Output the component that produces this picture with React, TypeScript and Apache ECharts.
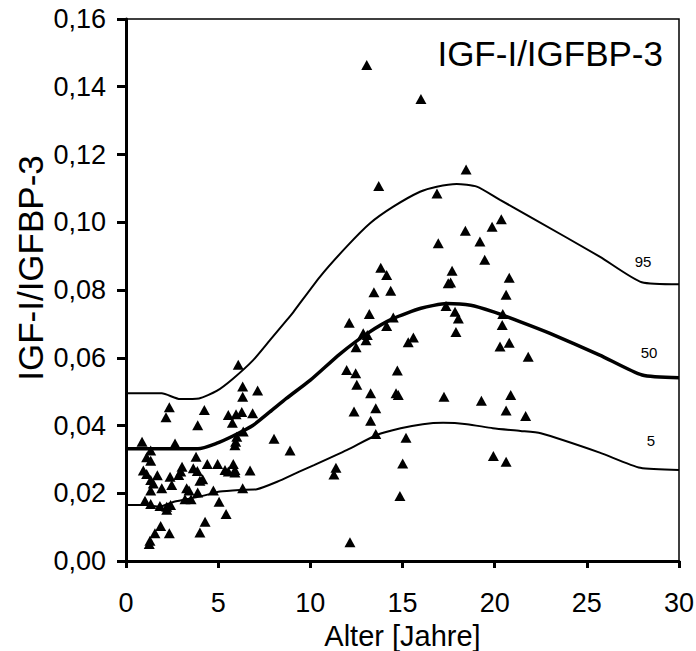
import React, { useEffect, useRef } from "react";
import * as echarts from "echarts";

// Scatter: individual measurements (age in years, IGF-I/IGFBP-3 ratio)
const ages = [
  6.09, 6.33, 7.14, 6.33, 2.35, 4.25, 2.17, 5.55, 5.97, 6.28, 6.87, 5.77, 3.89, 6.36, 6.01, 5.95,
  5.91, 8.03, 8.9, 0.87, 2.66, 1.34, 1.12, 1.34, 3.8, 0.94, 1.12, 1.7, 1.34, 1.48, 2.39, 3.04,
  2.97, 2.86, 3.65, 3.87, 4.01, 4.16, 4.41, 4.97, 5.37, 5.55, 5.82, 5.91, 5.91, 6.73, 2.48, 1.94,
  1.34, 3.29, 3.42, 3.89, 4.74, 6.33, 1.03, 1.34, 1.84, 2.21, 2.42, 2.21, 3.2, 3.53, 5.05, 5.43,
  4.29, 1.88, 1.57, 2.35, 4.01, 1.3, 1.26,
  13.06, 16.0, 18.45, 13.71, 16.87, 20.36, 19.86, 18.41, 19.2, 16.94, 19.46, 13.82, 14.14, 17.69,
  20.79, 17.48, 17.61, 13.45, 14.36, 20.62,
  13.2, 12.11, 14.5, 14.14, 17.36, 17.85, 18.03, 17.9, 20.44, 20.41, 12.87, 13.09, 13.02, 12.48,
  15.59, 15.31, 20.29, 20.79, 21.82, 11.97, 12.46, 14.72, 12.52, 13.27, 14.65, 14.77, 17.25, 19.28,
  20.87, 20.62, 21.68, 12.37, 13.55, 13.27, 13.55, 15.19, 11.39, 11.28, 15.01, 19.93, 20.62, 14.86,
  12.15,
];
const ratios = [
  0.0579, 0.0515, 0.0503, 0.0485, 0.0454, 0.0446, 0.0424, 0.0431, 0.0433, 0.044, 0.0436, 0.0408,
  0.0401, 0.0382, 0.0367, 0.0352, 0.0342, 0.0361, 0.0326, 0.0352, 0.0347, 0.0326, 0.0306, 0.0296,
  0.0308, 0.0267, 0.0257, 0.0253, 0.0239, 0.0229, 0.0249, 0.0278, 0.0264, 0.0254, 0.0274, 0.0266,
  0.0237, 0.0241, 0.0286, 0.0286, 0.0269, 0.0264, 0.0286, 0.0269, 0.0261, 0.0267, 0.0224, 0.0215,
  0.0208, 0.0215, 0.0208, 0.0202, 0.0208, 0.0215, 0.0178, 0.0168, 0.0162, 0.016, 0.0165, 0.0151,
  0.0182, 0.0182, 0.0175, 0.0139, 0.0116, 0.0103, 0.0082, 0.0082, 0.0084, 0.006, 0.005,
  0.1464, 0.1364, 0.1156, 0.1107, 0.1085, 0.1009, 0.0987, 0.0975, 0.0943, 0.0938, 0.0889, 0.0866,
  0.0844, 0.0857, 0.0836, 0.082, 0.0822, 0.0793, 0.0798, 0.0786,
  0.0729, 0.0703, 0.0719, 0.0694, 0.0753, 0.0736, 0.0716, 0.0676, 0.0729, 0.0697, 0.0672, 0.0667,
  0.0652, 0.0631, 0.066, 0.0646, 0.0633, 0.0644, 0.0603, 0.0564, 0.0554, 0.0562, 0.052, 0.0495,
  0.0495, 0.049, 0.0485, 0.0473, 0.049, 0.0444, 0.0428, 0.0441, 0.0451, 0.0414, 0.0375, 0.0364,
  0.0275, 0.0255, 0.0288, 0.031, 0.0293, 0.0192, 0.0055,
];

// Percentile curves
const p95Age = [0, 1.94, 2.93, 3.96, 4.92, 5.82, 6.9, 7.81, 8.72, 9.08, 10.52, 11.97, 13.24, 14.5, 15.95, 16.86, 17.94, 19.03, 20.29, 21.92, 25.72, 27.98, 30];
const p95Val = [0.0495, 0.0495, 0.0478, 0.048, 0.0502, 0.0539, 0.0593, 0.0652, 0.0711, 0.0735, 0.0839, 0.0928, 0.0997, 0.1046, 0.109, 0.1105, 0.1113, 0.1105, 0.1066, 0.1016, 0.0898, 0.0823, 0.0817];
const p50Age = [0, 3.9, 4.9, 5.8, 6.9, 7.8, 8.7, 10.0, 11.6, 13.1, 14.5, 16.0, 17.4, 18.7, 19.9, 21.4, 23.0, 25.7, 28.0, 30];
const p50Val = [0.0331, 0.0331, 0.0347, 0.0369, 0.0401, 0.044, 0.048, 0.0534, 0.0611, 0.0672, 0.0716, 0.0746, 0.076, 0.0755, 0.0736, 0.0706, 0.0672, 0.0608, 0.0549, 0.0541];
const p5Age = [0, 1.1, 1.8, 2.6, 4.0, 5.1, 6.2, 7.1, 8.2, 9.4, 10.2, 12.0, 13.6, 14.9, 16.1, 17.2, 18.5, 19.9, 21.4, 22.5, 25.7, 27.9, 30];
const p5Val = [0.0165, 0.0165, 0.016, 0.0175, 0.019, 0.0205, 0.021, 0.0212, 0.0234, 0.0264, 0.0283, 0.0328, 0.0372, 0.0392, 0.0404, 0.0408, 0.0404, 0.0392, 0.0384, 0.0377, 0.032, 0.0275, 0.0269];

const percentileLabels = ["95", "50", "5"];
const titleText = "IGF-I/IGFBP-3";
const yAxisTitle = "IGF-I/IGFBP-3";
const xAxisTitle = "Alter [Jahre]";

const FONT = "'Liberation Sans', Arial, Helvetica, sans-serif";

const zip = (xs: number[], ys: number[]) => xs.map((x, i) => [x, ys[i]]);

export default function App() {
  const ref = useRef<HTMLDivElement>(null);
  useEffect(() => {
    if (!ref.current) return;
    const chart = echarts.init(ref.current, null, { renderer: "svg" });
    const lineSeries = (data: number[][], width: number) => ({
      type: "line",
      data,
      showSymbol: false,
      symbol: "none",
      smooth: 0.2,
      lineStyle: { color: "#000", width },
      silent: true,
      z: 3,
    });
    chart.setOption({
      animation: false,
      backgroundColor: "#fff",
      grid: {
        left: 126,
        right: 17,
        top: 19,
        bottom: 90,
        show: true,
        borderColor: "#000",
        borderWidth: 1.5,
        outerBoundsMode: "none",
      },
      xAxis: {
        type: "value",
        min: 0,
        max: 30,
        interval: 5,
        name: xAxisTitle,
        nameLocation: "middle",
        nameGap: 70,
        nameTextStyle: { fontFamily: FONT, fontSize: 29, color: "#000", verticalAlign: "middle" },
        axisLine: { show: true, onZero: false, lineStyle: { color: "#000", width: 3 } },
        axisTick: { show: true, length: 7, lineStyle: { color: "#000", width: 3 } },
        axisLabel: { fontFamily: FONT, fontSize: 27, color: "#000", margin: 42, verticalAlign: "middle" },
        splitLine: { show: false },
      },
      yAxis: {
        type: "value",
        min: 0,
        max: 0.16,
        interval: 0.02,
        axisLine: { show: true, onZero: false, lineStyle: { color: "#000", width: 3 } },
        axisTick: { show: true, length: 9, lineStyle: { color: "#000", width: 3 } },
        axisLabel: {
          fontFamily: FONT,
          fontSize: 27,
          color: "#000",
          margin: 20,
          formatter: (v: number) => v.toFixed(2).replace(".", ","),
        },
        splitLine: { show: false },
      },
      graphic: [
        {
          type: "text",
          x: 663,
          y: 53,
          style: { text: titleText, fontFamily: FONT, fontSize: 35, fill: "#000", align: "right", verticalAlign: "middle" },
        },
        {
          type: "text",
          x: 30,
          y: 268,
          rotation: Math.PI / 2,
          style: { text: yAxisTitle, fontFamily: FONT, fontSize: 35, fill: "#000", align: "center", verticalAlign: "middle" },
        },
        {
          type: "text",
          x: 643,
          y: 261,
          style: { text: percentileLabels[0], fontFamily: FONT, fontSize: 15, fill: "#000", align: "center", verticalAlign: "middle" },
        },
        {
          type: "text",
          x: 649,
          y: 352,
          style: { text: percentileLabels[1], fontFamily: FONT, fontSize: 15, fill: "#000", align: "center", verticalAlign: "middle" },
        },
        {
          type: "text",
          x: 651,
          y: 440,
          style: { text: percentileLabels[2], fontFamily: FONT, fontSize: 15, fill: "#000", align: "center", verticalAlign: "middle" },
        },
      ],
      series: [
        lineSeries(zip(p95Age, p95Val), 2),
        lineSeries(zip(p50Age, p50Val), 3.5),
        lineSeries(zip(p5Age, p5Val), 2),
        {
          type: "scatter",
          data: zip(ages, ratios),
          symbol: "triangle",
          symbolSize: [11, 10],
          itemStyle: { color: "#000", opacity: 1 },
          z: 4,
        },
      ],
    });
    return () => chart.dispose();
  }, []);
  return (
    <div
      ref={ref}
      style={{ position: "fixed", left: 0, top: 0, width: 696, height: 651, background: "#fff" }}
    />
  );
}
